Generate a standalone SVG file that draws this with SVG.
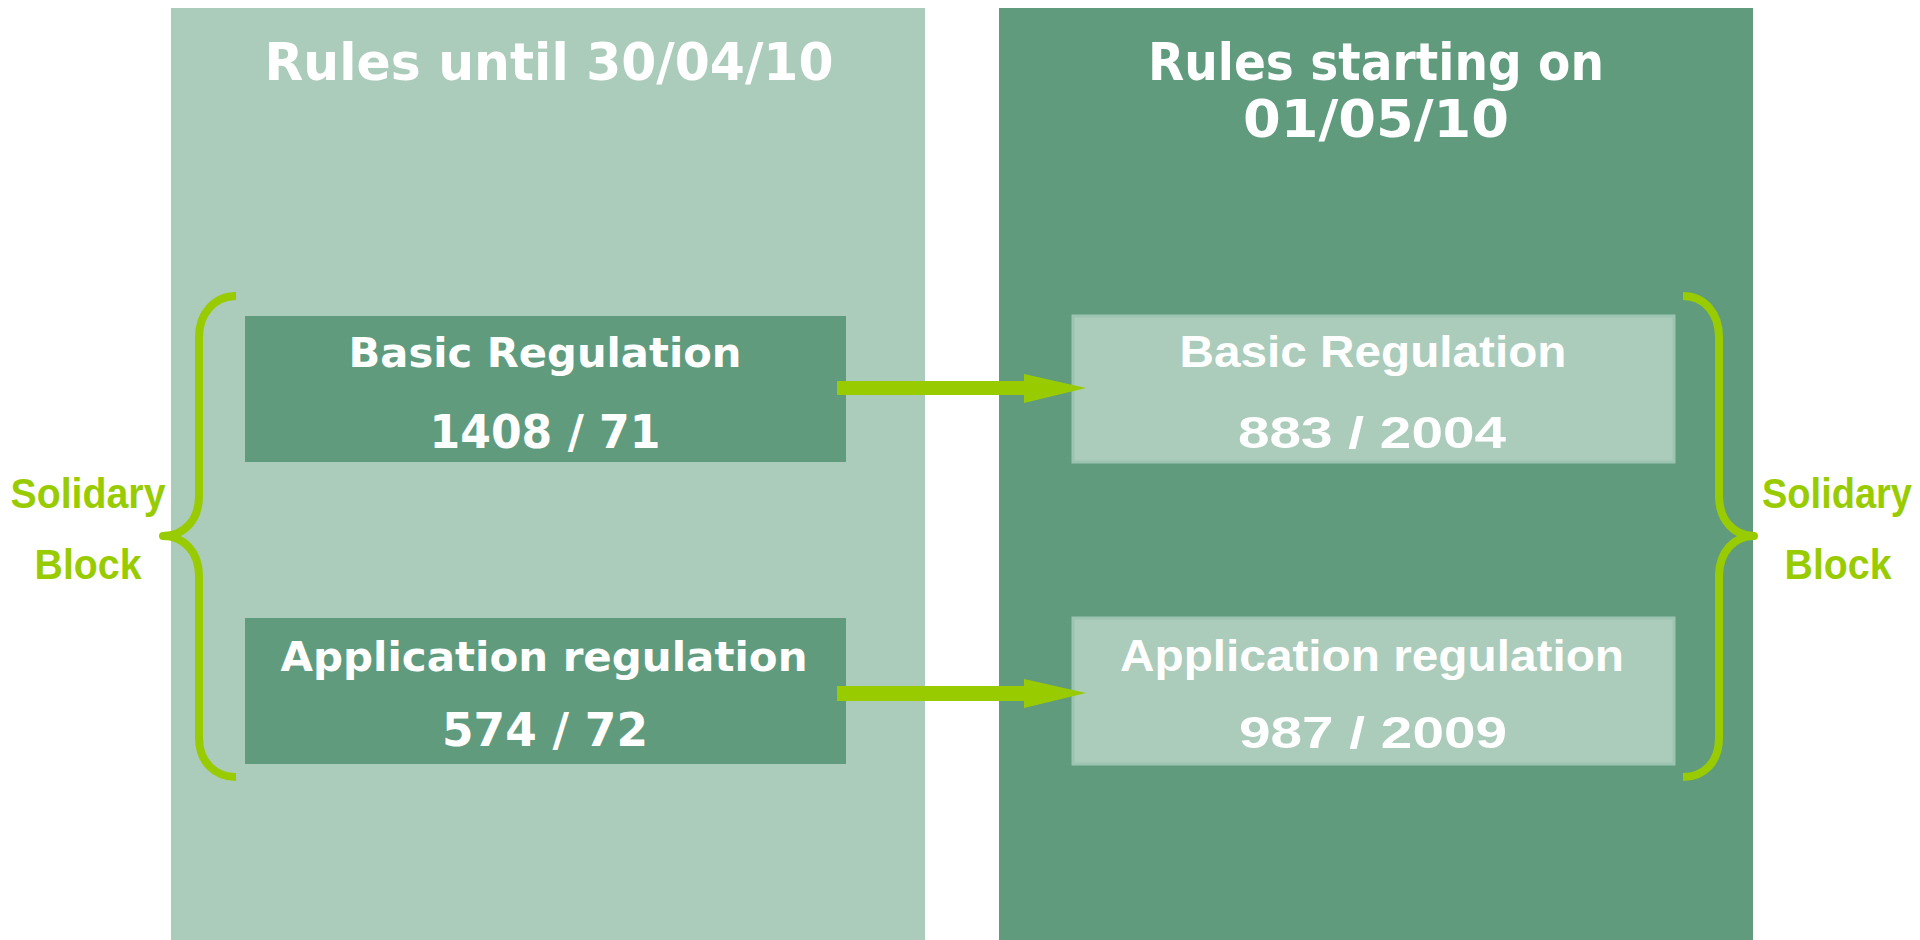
<svg xmlns="http://www.w3.org/2000/svg" width="1920" height="940" viewBox="0 0 1920 940">
<style>
.pl{fill:#abcbbb}
.pd{fill:#609b7e}
.t{fill:#ffffff;font-family:"DejaVu Sans",Verdana,sans-serif;font-weight:bold;text-anchor:middle}
.ta{fill:#ffffff;font-family:"Liberation Sans",Arial,sans-serif;font-weight:bold;text-anchor:middle}
.g{fill:#99cc00;font-family:"Liberation Sans",Arial,sans-serif;font-weight:bold;text-anchor:middle;font-size:42px}
.br{fill:none;stroke:#99cc00;stroke-width:8;stroke-linejoin:round;stroke-linecap:butt}
.bl{fill:#abcbbb;stroke:#9cc4b0;stroke-width:3}
.ar{fill:#99cc00}
</style>
<rect width="1920" height="940" fill="#ffffff"/>
<g id="panel-left">
<rect class="pl" x="171" y="8" width="754" height="932"/>
<text class="t" x="549" y="80" font-size="51" textLength="569" lengthAdjust="spacingAndGlyphs">Rules until 30/04/10</text>
</g>
<g id="panel-right">
<rect class="pd" x="999" y="8" width="754" height="932"/>
<text class="t" x="1376" y="80" font-size="51" textLength="456" lengthAdjust="spacingAndGlyphs">Rules starting on</text>
<text class="t" x="1376" y="137" font-size="51" textLength="266" lengthAdjust="spacingAndGlyphs">01/05/10</text>
</g>
<g id="old-basic">
<rect class="pd" x="245" y="316" width="601" height="146"/>
<text class="t" x="545" y="367" font-size="41" textLength="393" lengthAdjust="spacingAndGlyphs">Basic Regulation</text>
<text class="t" x="545" y="448" font-size="46" textLength="231" lengthAdjust="spacingAndGlyphs">1408 / 71</text>
</g>
<g id="old-application">
<rect class="pd" x="245" y="618" width="601" height="146"/>
<text class="t" x="544" y="671" font-size="41" textLength="527" lengthAdjust="spacingAndGlyphs">Application regulation</text>
<text class="t" x="545" y="746" font-size="46" textLength="206" lengthAdjust="spacingAndGlyphs">574 / 72</text>
</g>
<g id="new-basic">
<rect class="bl" x="1073" y="316" width="601" height="146"/>
<text class="ta" x="1373" y="367" font-size="44" textLength="387" lengthAdjust="spacingAndGlyphs">Basic Regulation</text>
<text class="ta" x="1372" y="448" font-size="45" textLength="268" lengthAdjust="spacingAndGlyphs">883 / 2004</text>
</g>
<g id="new-application">
<rect class="bl" x="1073" y="618" width="601" height="146"/>
<text class="ta" x="1372" y="671" font-size="44" textLength="504" lengthAdjust="spacingAndGlyphs">Application regulation</text>
<text class="ta" x="1373" y="748" font-size="45" textLength="268" lengthAdjust="spacingAndGlyphs">987 / 2009</text>
</g>
<g id="solidary-left">
<path class="br" d="M236 296 C215 296 199 313 199 337 L199 496 C199 520 184 536 163 536 C184 536 199 552 199 576 L199 738 C199 762 215 777 236 777"/>
<text class="g" x="88" y="508" textLength="155" lengthAdjust="spacingAndGlyphs">Solidary</text>
<text class="g" x="88" y="579" textLength="107" lengthAdjust="spacingAndGlyphs">Block</text>
</g>
<g id="solidary-right">
<path class="br" d="M1683 296 C1704 296 1719 313 1719 337 L1719 496 C1719 520 1734 536 1754 536 C1734 536 1719 552 1719 576 L1719 738 C1719 762 1704 777 1683 777"/>
<text class="g" x="1837" y="508" font-size="39" textLength="150" lengthAdjust="spacingAndGlyphs">Solidary</text>
<text class="g" x="1838" y="579" textLength="107" lengthAdjust="spacingAndGlyphs">Block</text>
</g>
<g id="connectors">
<polygon class="ar" points="837,381 1024,381 1024,374 1086,388 1024,403 1024,395 837,395"/>
<polygon class="ar" points="837,686 1024,686 1024,679 1086,693 1024,708 1024,701 837,701"/>
</g>
</svg>
